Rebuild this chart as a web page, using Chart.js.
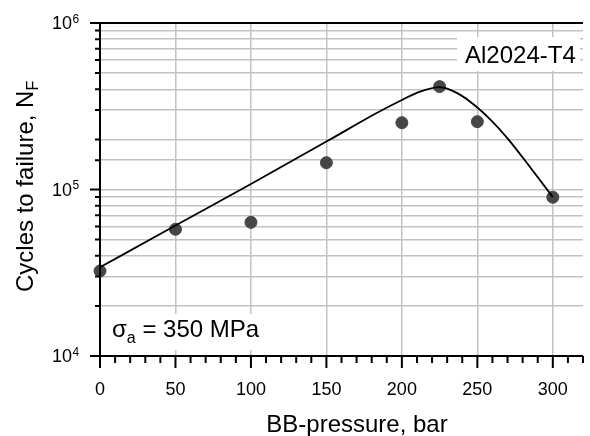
<!DOCTYPE html>
<html>
<head>
<meta charset="utf-8">
<script src="https://cdn.jsdelivr.net/npm/chart.js@4"></script>
<style>
  html, body { margin: 0; padding: 0; background: #fff; }
</style>
</head>
<body>
<canvas id="chart" width="590" height="436"></canvas>
<script>
// measured points
const pressure = [0, 50, 100, 150, 200, 225, 250, 300];
const cycles = [32400, 57700, 63500, 144800, 251900, 415000, 255500, 89800];
// fitted curve
const fitPressure = [0, 50, 100, 150, 183, 200, 212, 225, 237, 248, 259, 270, 285, 300];
const fitCycles = [34100, 60800, 108000, 194000, 287000, 345000, 387000, 412000, 378000, 322000, 261000, 203000, 136000, 90000];
const xLabels = [0, 50, 100, 150, 200, 250, 300];
const yDecades = [1e4, 1e5, 1e6];
const material = 'Al2024-T4';
const stressText = ' = 350 MPa';
const xTitle = 'BB-pressure, bar';
const yTitle = 'Cycles to failure, N';

const FONT = '"Liberation Sans", Arial, sans-serif';
const GRID = '#c2c2c2';

function isDecade(v) {
  return yDecades.some(d => Math.abs(v - d) < 1e-6 * d);
}

const extras = {
  id: 'extras',
  beforeDatasetsDraw(chart) {
    const c = chart.ctx;
    c.save();
    // white boxes behind the two labels
    c.fillStyle = '#fff';
    c.fillRect(457, 37, 123, 34);
    c.fillRect(102, 314, 160, 36);
    c.fillStyle = '#000';
    c.font = '24px ' + FONT;
    c.textBaseline = 'alphabetic';
    c.fillText(material, 465, 63);
    // sigma_a label
    c.fillText('\u03c3', 112, 337);
    let w = c.measureText('\u03c3').width;
    c.font = '16px ' + FONT;
    c.fillText('a', 112 + w, 343);
    let w2 = c.measureText('a').width;
    c.font = '24px ' + FONT;
    c.fillText(stressText, 112 + w + w2, 337);
    c.restore();
  },
  afterDraw(chart) {
    const c = chart.ctx;
    const xs = chart.scales.x, ys = chart.scales.y;
    const a = chart.chartArea;
    c.save();
    c.strokeStyle = '#000';
    c.lineWidth = 2;
    c.beginPath();
    // axes and top border
    c.moveTo(a.left, a.top); c.lineTo(a.right, a.top);
    c.moveTo(a.left, a.top); c.lineTo(a.left, a.bottom);
    c.moveTo(a.left, a.bottom); c.lineTo(a.right, a.bottom);
    // x tick marks
    xs.ticks.forEach(t => {
      const px = xs.getPixelForValue(t.value);
      const len = t.value % 50 === 0 ? 12 : 7;
      c.moveTo(px, a.bottom); c.lineTo(px, a.bottom + len);
    });
    // y tick marks
    ys.ticks.forEach(t => {
      const py = ys.getPixelForValue(t.value);
      const len = isDecade(t.value) ? 10 : 5;
      c.moveTo(a.left, py); c.lineTo(a.left - len, py);
    });
    c.stroke();

    // y tick labels 10^n
    c.fillStyle = '#000';
    yDecades.forEach(d => {
      const py = ys.getPixelForValue(d);
      c.font = '18px ' + FONT;
      c.textAlign = 'right';
      c.fillText('10', 72, py + 6);
      c.font = '12px ' + FONT;
      c.textAlign = 'left';
      c.fillText(String(Math.round(Math.log10(d))), 72.5, py - 0.5);
    });

    // x tick labels
    c.font = '18px ' + FONT;
    c.textAlign = 'center';
    xLabels.forEach(v => {
      c.fillText(String(v), xs.getPixelForValue(v), 395);
    });

    // axis titles
    c.font = '24px ' + FONT;
    c.fillText(xTitle, 357, 432);

    c.translate(33, 292);
    c.rotate(-Math.PI / 2);
    c.textAlign = 'left';
    c.fillText(yTitle, 0, 0);
    const tw = c.measureText(yTitle).width;
    c.font = '16px ' + FONT;
    c.fillText('F', tw, 5);
    c.restore();
  }
};

new Chart(document.getElementById('chart').getContext('2d'), {
  type: 'scatter',
  data: {
    datasets: [{
      label: 'fit',
      data: fitPressure.map((x, i) => ({ x: x, y: fitCycles[i] })),
      showLine: true,
      borderColor: '#000',
      borderWidth: 1.8,
      pointRadius: 0,
      cubicInterpolationMode: 'monotone',
      order: 0
    }, {
      label: 'tests',
      data: pressure.map((x, i) => ({ x: x, y: cycles[i] })),
      backgroundColor: '#464646',
      borderColor: '#464646',
      pointRadius: 6,
      clip: false,
      order: 1
    }]
  },
  options: {
    responsive: false,
    animation: false,
    devicePixelRatio: 1,
    layout: { padding: { top: 23, left: 0, right: 0, bottom: 0 } },
    plugins: { legend: { display: false }, tooltip: { enabled: false } },
    scales: {
      x: {
        type: 'linear',
        min: 0, max: 320,
        afterFit: s => { s.height = 80; },
        ticks: { stepSize: 10, display: false, autoSkip: false },
        border: { display: false },
        grid: {
          drawTicks: false,
          lineWidth: 1.5,
          color: ctx => (ctx.tick && ctx.tick.value % 50 === 0 && ctx.tick.value > 0 && ctx.tick.value <= 300) ? GRID : 'rgba(0,0,0,0)'
        }
      },
      y: {
        type: 'logarithmic',
        min: 1e4, max: 1e6,
        afterFit: s => { s.width = 100; },
        ticks: { display: false, autoSkip: false },
        border: { display: false },
        grid: {
          drawTicks: false,
          lineWidth: 1.5,
          color: ctx => (ctx.tick && ctx.tick.value > 1e4 && ctx.tick.value < 1e6) ? GRID : 'rgba(0,0,0,0)'
        }
      }
    }
  },
  plugins: [extras]
});
</script>
</body>
</html>
